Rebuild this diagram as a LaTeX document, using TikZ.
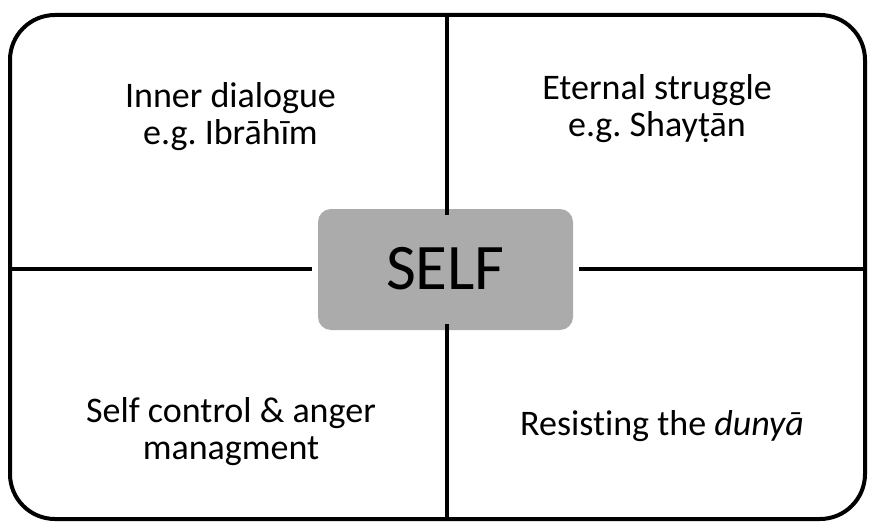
\documentclass[tikz,border=0pt]{standalone}
\usepackage{fontspec}
\setmainfont{Carlito}[Ligatures=NoCommon]
\begin{document}
\frenchspacing
\begin{tikzpicture}[x=1pt,y=-1pt,
  frame/.style={line width=4pt, rounded corners=45pt},
  divider/.style={line width=4pt},
  selfbox/.style={fill=gray!66, draw=none, rounded corners=13pt, minimum width=255pt, minimum height=121pt, font=\fontsize{65}{68}\selectfont, inner sep=0pt},
  quad/.style={align=center, font=\fontsize{36}{37}\selectfont, inner sep=0pt}]
\useasboundingbox (0,0) rectangle (870,527);
\draw[frame] (10,15) rectangle (865,519);
\node[selfbox] (self) at (445.5,269.5) {\raisebox{2pt}{SELF}};
\coordinate (top) at (447,15);
\coordinate (bot) at (447,519);
\coordinate (lft) at (10,269);
\coordinate (rgt) at (865,269);
\draw[divider] (top) -- ([yshift=-6pt]self.north -| top);
\draw[divider] (bot) -- ([yshift=6pt]self.south -| bot);
\draw[divider] (lft) -- ([xshift=-6pt]self.west |- lft);
\draw[divider] (rgt) -- ([xshift=6pt]self.east |- rgt);
\node[quad, anchor=north] (tl) at (230.5,82) {Inner dialogue\\e.g. Ibrāhīm};
\node[quad, anchor=north] (tr) at (657,74) {Eternal struggle\\e.g. Shayṭān};
\node[quad, anchor=north] (bl) at (231,397) {Self control \& anger\\managment};
\node[quad, anchor=base] (br) at (662,435) {Resisting the \textit{dunyā}};
\end{tikzpicture}
\end{document}
